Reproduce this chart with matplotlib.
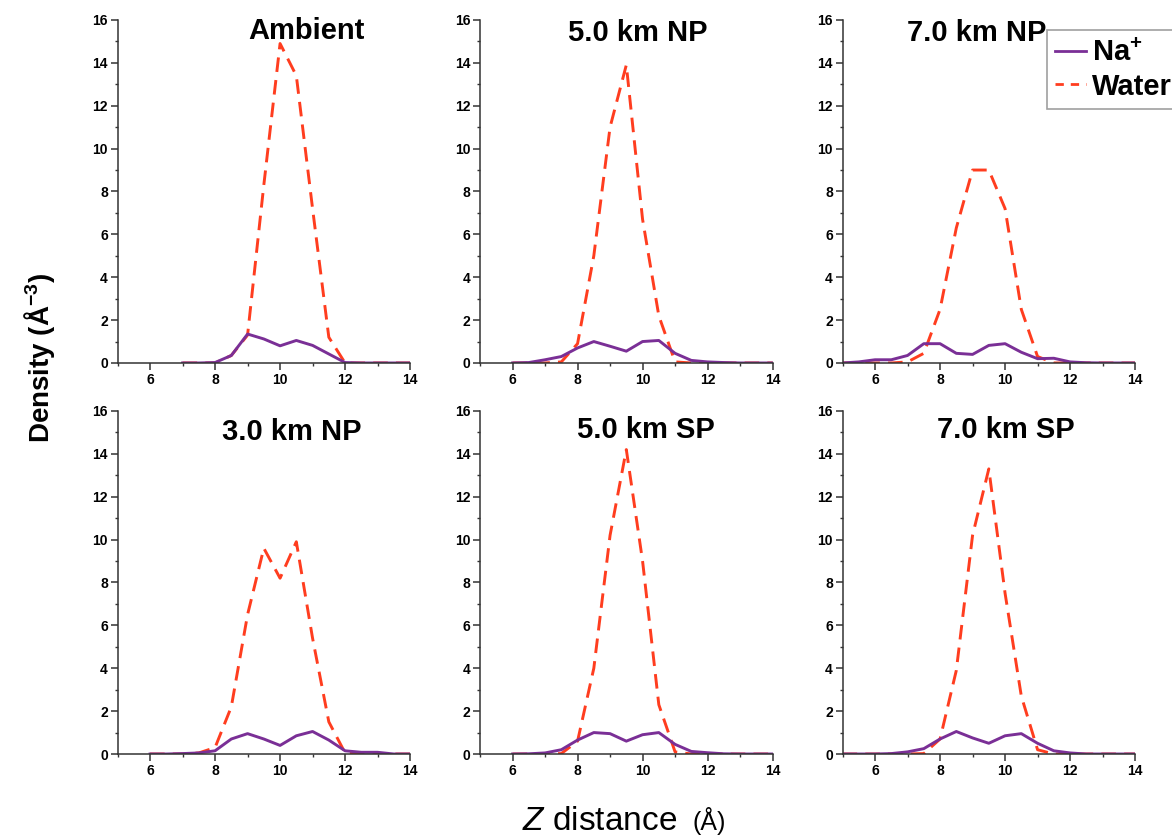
import numpy as np
import matplotlib
matplotlib.use("Agg")
import matplotlib.pyplot as plt
from matplotlib.lines import Line2D
from matplotlib.ticker import MultipleLocator

plt.rcParams["font.family"] = ["Liberation Sans", "DejaVu Sans"]
plt.rcParams["mathtext.fontset"] = "custom"
plt.rcParams["mathtext.rm"] = "Liberation Sans"
plt.rcParams["mathtext.it"] = "Liberation Sans:italic"
plt.rcParams["mathtext.bf"] = "Liberation Sans:bold"

# z grid (Å), every panel uses a tail of this
Z_FULL = [5.0, 5.5, 6.0, 6.5, 7.0, 7.5, 8.0, 8.5, 9.0, 9.5,
          10.0, 10.5, 11.0, 11.5, 12.0, 12.5, 13.0, 13.5, 14.0]

titles = ["Ambient", "5.0 km NP", "7.0 km NP", "3.0 km NP", "5.0 km SP", "7.0 km SP"]
z_start = [7.0, 6.0, 5.0, 6.0, 6.0, 5.0]

water_ambient = [0, 0, 0, 0.35, 1.3, 8.3, 14.9, 13.4, 7.2, 1.2, 0, 0, 0, 0, 0]
na_ambient = [0, 0, 0.02, 0.35, 1.35, 1.12, 0.8, 1.05, 0.82, 0.42, 0.02, 0, 0, 0, 0]

water_5np = [0, 0, 0, 0.05, 0.9, 5.0, 11.0, 13.9, 6.7, 2.2, 0.05, 0, 0, 0, 0, 0, 0]
na_5np = [0, 0.02, 0.15, 0.3, 0.7, 1.0, 0.78, 0.55, 1.0, 1.05, 0.45, 0.12, 0.05, 0.02, 0, 0, 0]

water_7np = [0, 0, 0, 0, 0.05, 0.45, 2.5, 6.3, 9.0, 9.0, 7.2, 2.5, 0.3, 0, 0, 0, 0, 0, 0]
na_7np = [0, 0.05, 0.15, 0.15, 0.35, 0.9, 0.9, 0.45, 0.4, 0.82, 0.9, 0.5, 0.2, 0.22, 0.05, 0.01, 0, 0, 0]

water_3np = [0, 0, 0, 0.05, 0.3, 2.2, 6.5, 9.6, 8.2, 9.9, 5.4, 1.5, 0.05, 0, 0, 0, 0]
na_3np = [0, 0, 0.02, 0.05, 0.15, 0.7, 0.95, 0.7, 0.4, 0.85, 1.05, 0.65, 0.15, 0.08, 0.08, 0, 0]

water_5sp = [0, 0, 0, 0.02, 0.6, 4.0, 10.2, 14.2, 9.0, 2.3, 0.1, 0, 0, 0, 0, 0, 0]
na_5sp = [0, 0.01, 0.05, 0.2, 0.65, 1.0, 0.95, 0.6, 0.9, 1.0, 0.45, 0.12, 0.06, 0.01, 0, 0, 0]

water_7sp = [0, 0, 0, 0, 0, 0.02, 0.7, 3.9, 10.2, 13.3, 7.5, 2.7, 0.2, 0, 0, 0, 0, 0, 0]
na_7sp = [0, 0, 0, 0.02, 0.1, 0.25, 0.7, 1.05, 0.75, 0.5, 0.85, 0.95, 0.5, 0.15, 0.05, 0, 0, 0, 0]

water_all = [water_ambient, water_5np, water_7np, water_3np, water_5sp, water_7sp]
na_all = [na_ambient, na_5np, na_7np, na_3np, na_5sp, na_7sp]

# title anchor in data coords (x, y)
title_pos = [(10.8, 15.5), (9.86, 15.4), (9.14, 15.4), (10.37, 15.0), (10.1, 15.1), (10.03, 15.1)]

NA_COLOR = "#7a2f96"
WATER_COLOR = "#ff3d1f"
AX_COLOR = "#333333"

fig = plt.figure(figsize=(11.72, 8.35), dpi=100)
fig.patch.set_facecolor("white")

lefts = [0.1003, 0.4096, 0.7189]
bottoms = [0.5653, 0.0970]
w, h = 0.2496, 0.4108

for i in range(6):
    row, col = divmod(i, 3)
    ax = fig.add_axes([lefts[col], bottoms[row], w, h])
    z = [v for v in Z_FULL if v >= z_start[i]]
    ax.plot(z, water_all[i], color=WATER_COLOR, lw=2.1, dashes=(5, 2.8))
    ax.plot(z, na_all[i], color=NA_COLOR, lw=2.1)

    ax.set_xlim(5, 14)
    ax.set_ylim(0, 16)
    ax.xaxis.set_major_locator(MultipleLocator(2))
    ax.xaxis.set_minor_locator(MultipleLocator(1))
    ax.yaxis.set_major_locator(MultipleLocator(2))
    ax.yaxis.set_minor_locator(MultipleLocator(1))
    for s in ["top", "right"]:
        ax.spines[s].set_visible(False)
    for s in ["left", "bottom"]:
        ax.spines[s].set_color(AX_COLOR)
        ax.spines[s].set_linewidth(1.1)
    ax.tick_params(which="major", length=5, width=1.1, color=AX_COLOR,
                   labelsize=10, pad=2)
    ax.tick_params(which="minor", length=2.5, width=1.0, color=AX_COLOR)
    for lab in ax.get_yticklabels():
        lab.set_fontweight("bold")
    ax.set_xticks([6, 8, 10, 12, 14])
    ax.set_xticklabels(["6", "8", "10", "12", "14"], fontweight="bold")

    tx, ty = title_pos[i]
    ax.text(tx, ty, titles[i], fontsize=21, fontweight="bold",
            ha="center", va="center")

handles = [Line2D([], [], color=NA_COLOR, lw=2.0),
           Line2D([], [], color=WATER_COLOR, lw=2.0, dashes=(3, 2.5))]
leg = fig.legend(handles, [r"Na$^{\mathbf{+}}$", "Water"], loc="upper left",
                 bbox_to_anchor=(0.893, 0.964), borderaxespad=0,
                 prop={"weight": "bold", "size": 21}, handlelength=1.05,
                 handletextpad=0.2, borderpad=0.3, labelspacing=0.2,
                 fancybox=False, frameon=True)
leg.get_frame().set_edgecolor("#888888")
leg.get_frame().set_linewidth(1.2)

fig.text(0.034, 0.571, r"Density (Å$^{\mathbf{-3}}$)", rotation=90,
         fontsize=20, fontweight="bold", ha="center", va="center")

fig.text(522 / 1172, 0.006, r"$\mathit{Z}$ distance", fontsize=24,
         ha="left", va="baseline")
fig.text(692 / 1172, 0.006, "(Å)", fontsize=18, ha="left", va="baseline")

fig.savefig("out.png", dpi=100, facecolor="white")
